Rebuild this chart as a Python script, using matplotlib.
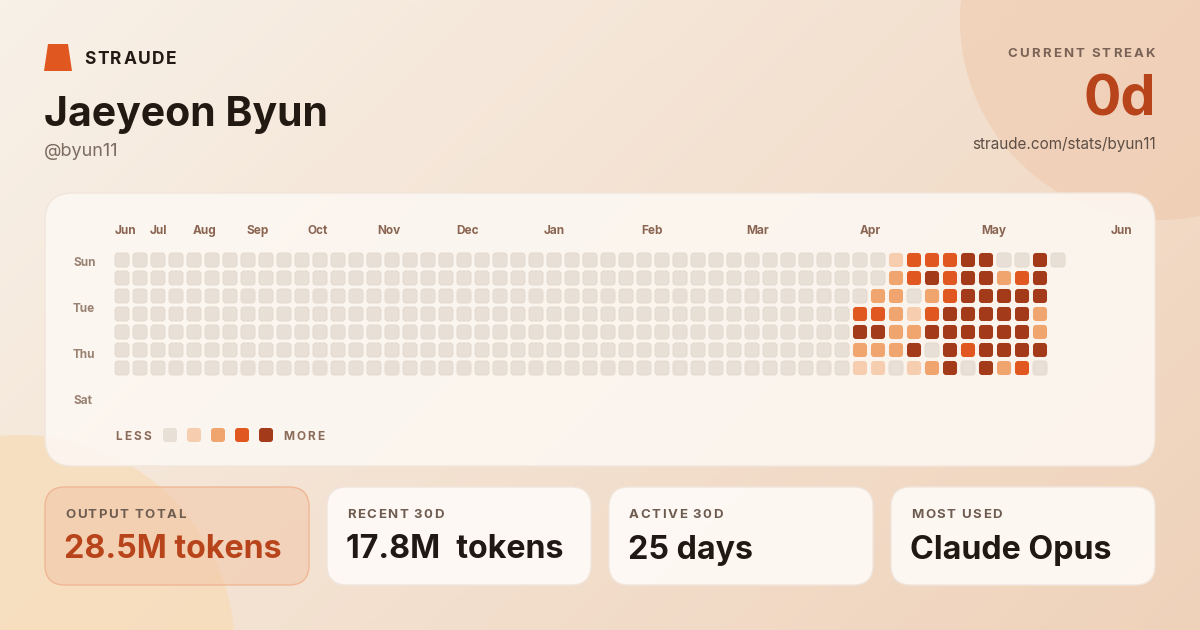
import numpy as np
import matplotlib
matplotlib.use("Agg")
import matplotlib.pyplot as plt
from matplotlib.patches import FancyBboxPatch, Circle, Polygon
from matplotlib.colors import to_rgb

plt.rcParams['font.family'] = ['Inter', 'DejaVu Sans']

user_name = "Jaeyeon Byun"
handle = "@byun11"
streak = "0d"
profile_url = "straude.com/stats/byun11"

day_labels = ["Sun", "Tue", "Thu", "Sat"]
day_rows = [0.06, 2.61, 5.17, 7.72]

months = ["Jun", "Jul", "Aug", "Sep", "Oct", "Nov", "Dec",
          "Jan", "Feb", "Mar", "Apr", "May", "Jun"]
month_cols = [-0.39, 1.56, 3.94, 6.94, 10.33, 14.17, 18.56,
              23.44, 28.83, 34.67, 41.0, 47.72, 54.94]

n_weeks = 53
first_active_week = 41
# activity level per weekday (Sun..Sat) for weeks 41..52, None = not yet
recent_levels = [
    [0, 0, 1, 3, 3, 3, 4, 4, 0, 0, 4, 0],
    [0, 0, 2, 3, 4, 3, 4, 4, 2, 3, 4, None],
    [0, 2, 2, 0, 2, 3, 4, 4, 4, 4, 4, None],
    [3, 3, 2, 1, 3, 4, 4, 4, 4, 4, 2, None],
    [4, 4, 2, 2, 4, 4, 4, 4, 4, 4, 2, None],
    [2, 2, 2, 4, 0, 4, 3, 4, 4, 4, 4, None],
    [1, 1, 0, 1, 2, 4, 0, 4, 2, 3, 0, None],
]
level_colors = ["#e8e0d6", "#f7cdb0", "#f0a46e", "#e0581f", "#a33a1a"]

stat_labels = ["OUTPUT TOTAL", "RECENT 30D", "ACTIVE 30D", "MOST USED"]
stat_values = ["28.5M tokens", "17.8M\u2002tokens", "25 days", "Claude Opus"]

# --- figure ---
fig = plt.figure(figsize=(12, 6.3), dpi=100)
ax = fig.add_axes([0, 0, 1, 1])
ax.set_xlim(0, 1200)
ax.set_ylim(630, 0)
ax.axis('off')
renderer = fig.canvas.get_renderer()

# background gradient
c0 = np.array(to_rgb("#f8f1e8"))
c1 = np.array(to_rgb("#efd2ba"))
gx, gy = np.meshgrid(np.linspace(0, 1, 240), np.linspace(0, 1, 126))
t = np.clip((gx * 0.65 + gy * 0.35), 0, 1)[..., None]
ax.imshow(c0 + (c1 - c0) * t, extent=[0, 1200, 630, 0], aspect='auto', zorder=0)

ax.add_patch(Circle((1160, 20), 200, color="#f0cbb0", alpha=0.65, lw=0, zorder=1))
ax.add_patch(Circle((20, 650), 215, color="#f7dcb8", alpha=0.75, lw=0, zorder=1))


def card(x0, y0, x1, y1, fc, ec, alpha, r):
    ax.add_patch(FancyBboxPatch((x0 + r, y0 + r), x1 - x0 - 2 * r, y1 - y0 - 2 * r,
                                boxstyle=f"round,pad={r}", fc=fc, ec="none",
                                alpha=alpha, zorder=2))
    ax.add_patch(FancyBboxPatch((x0 + r, y0 + r), x1 - x0 - 2 * r, y1 - y0 - 2 * r,
                                boxstyle=f"round,pad={r}", fc="none", ec=ec,
                                lw=1, zorder=2))


def spaced(x, y, s, size, track, ha='left', **kw):
    widths = []
    for ch in s:
        if ch == " ":
            widths.append(size * 0.3)
            continue
        tt = ax.text(0, 0, ch, fontsize=size, **kw)
        widths.append(tt.get_window_extent(renderer).width)
        tt.remove()
    total = sum(widths) + track * (len(s) - 1)
    cx = x - total if ha == 'right' else x
    for ch, w in zip(s, widths):
        if ch != " ":
            ax.text(cx, y, ch, fontsize=size, ha='left', va='center', zorder=5, **kw)
        cx += w + track


# header
ax.add_patch(Polygon([[48, 44], [68, 44], [72, 71], [44, 71]], closed=True,
                     fc="#e0581f", ec="none", zorder=5))
spaced(84, 59, "STRAUDE", 12.5, 1.6, color="#231a15", fontweight='bold')
ax.text(44, 115, user_name, fontsize=29.5, fontweight='bold', color="#221913",
        va='center', ha='left', zorder=5)
ax.text(44, 152, handle, fontsize=13, color="#7d6c62", va='center', zorder=5)

spaced(1155, 54, "CURRENT STREAK", 9.5, 2.1, ha='right', color="#7a6356",
       fontweight='bold')
ax.text(1156, 100, streak, fontsize=40, fontweight='bold', color="#b8441b",
        ha='right', va='center', zorder=5)
ax.text(1156, 144, profile_url, fontsize=11, color="#5e4f46", ha='right',
        va='center', zorder=5)

# main card
card(45, 193, 1155, 466, "#fdf8f3", "#f1e6dc", 0.88, 28)

# heatmap
hx0, hx1 = 113, 1067
hy0, hy1 = 251, 377
hax = fig.add_axes([hx0 / 1200, 1 - hy1 / 630, (hx1 - hx0) / 1200, (hy1 - hy0) / 630])
hax.set_xlim(-0.5, n_weeks - 0.5)
hax.set_ylim(6.5, -0.5)
hax.axis('off')

cell = 0.78
for row in range(7):
    for week in range(n_weeks):
        if week < first_active_week:
            lvl = 0
        else:
            lvl = recent_levels[row][week - first_active_week]
        if lvl is None:
            continue
        hax.add_patch(FancyBboxPatch((week - cell / 2 + 0.17, row - cell / 2 + 0.17),
                                     cell - 0.34, cell - 0.34,
                                     boxstyle="round,pad=0.17",
                                     fc=level_colors[lvl],
                                     ec="#e2d8cc" if lvl == 0 else "none", lw=0.6))

for name, col in zip(months, month_cols):
    hax.text(col, -1.62, name, fontsize=8.5, fontweight='bold', color="#8a6552",
             ha='left', va='center', clip_on=False)
for name, row in zip(day_labels, day_rows):
    hax.text(-2.72, row + 0.1, name, fontsize=8.5, fontweight='bold', color="#9a8272",
             ha='left', va='center', clip_on=False)

# legend
spaced(115, 436.5, "LESS", 8.5, 2.3, color="#8a6a58", fontweight='bold')
for i, c in enumerate(level_colors):
    x = 163 + 24 * i
    ax.add_patch(FancyBboxPatch((x + 3, 431), 8, 8, boxstyle="round,pad=3",
                                fc=c, ec="none", zorder=5))
spaced(283, 436.5, "MORE", 8.5, 2.3, color="#8a6a58", fontweight='bold')

# stat cards
card_x = [45, 327, 609, 891]
for i, (lab, val) in enumerate(zip(stat_labels, stat_values)):
    x0 = card_x[i]
    if i == 0:
        card(x0, 487, x0 + 264, 585, "#f2c4a4", "#efb796", 0.5, 20)
        vc = "#b8441b"
    else:
        card(x0, 487, x0 + 264, 585, "#fffcf9", "#f0e6dd", 0.88, 20)
        vc = "#1f1813"
    spaced(x0 + 20, 515, lab, 9.5, 1.5, color="#6e5c51", fontweight='bold')
    ax.text(x0 + 19, 550, val, fontsize=23.2, fontweight='bold', color=vc,
            ha='left', va='center', zorder=5)

fig.savefig("out.png", dpi=100)
